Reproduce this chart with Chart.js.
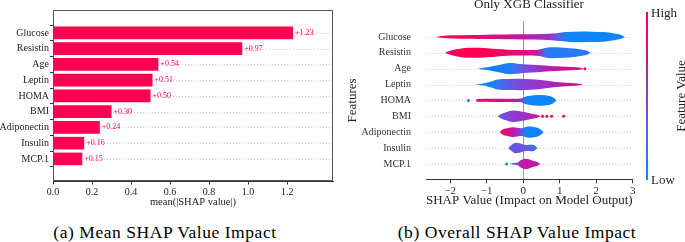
<!DOCTYPE html>
<html>
<head>
<meta charset="utf-8">
<script src="https://cdn.jsdelivr.net/npm/chart.js@4.4.0/dist/chart.umd.min.js"></script>
<style>
  body { margin: 0; background: #fff; width: 685px; height: 242px; overflow: hidden; position: relative; font-family: "Liberation Serif", serif; }
  #a { position: absolute; left: 0; top: 0; }
  #b { position: absolute; left: 340px; top: 0; }
  .txt { position: absolute; white-space: nowrap; color: #222; }
  .cap { font-size: 17.5px; line-height: 17.5px; top: 223.6px; letter-spacing: 0.55px; color: #000; transform: translateX(-50%); }
  #bar { position: absolute; left: 645.5px; top: 12px; width: 2.5px; height: 168px;
         background: linear-gradient(to top, #008bfb, #406ef0 25%, #8c3cd2 50%, #c814a0 75%, #ff0052); }
</style>
</head>
<body>
<canvas id="a" width="340" height="215"></canvas>
<canvas id="b" width="345" height="215"></canvas>
<div class="txt" style="left:529px; top:-2.6px; font-size:13px; line-height:13px; transform:translateX(-50%)">Only XGB Classifier</div>
<div id="bar"></div>
<div class="txt" style="left:651px; top:6px; font-size:13px; line-height:13px">High</div>
<div class="txt" style="left:651px; top:173px; font-size:13px; line-height:13px">Low</div>
<div class="txt" style="left:680px; top:96px; font-size:13px; line-height:13px; transform:translate(-50%,-50%) rotate(-90deg)">Feature Value</div>
<div class="txt cap" style="left:165px">(a) Mean SHAP Value Impact</div>
<div class="txt cap" style="left:517px">(b) Overall SHAP Value Impact</div>
<script>
const features = ['Glucose', 'Resistin', 'Age', 'Leptin', 'HOMA', 'BMI', 'Adiponectin', 'Insulin', 'MCP.1'];
const meanShap = [1.23, 0.97, 0.54, 0.51, 0.50, 0.30, 0.24, 0.16, 0.15];
const ticksA = [0, 0.2, 0.4, 0.6, 0.8, 1.0, 1.2];
const ticksB = [-2, -1, 0, 1, 2, 3];

// violin outlines: [shap value, half width (in rows), feature value 0..1]
const glucose = [[-2.39, 0, 1], [-2.25, .06, 1], [-1.9, .10, 1], [-1.45, .12, .97], [-1.0, .14, .85], [-0.5, .15, .8],
  [0.0, .16, .72], [0.55, .18, .6], [0.8, .21, .5], [1.0, .26, .3], [1.2, .30, .08], [1.6, .34, .05], [1.9, .33, .05],
  [2.2, .30, .05], [2.5, .21, .05], [2.7, .11, .05], [2.78, 0, .05]];
const resistin = [[-2.15, 0, .8], [-2.0, .13, .9], [-1.8, .23, 1], [-1.52, .32, 1], [-1.2, .31, 1], [-0.98, .28, 1],
  [-0.7, .23, .95], [-0.43, .19, .9], [-0.06, .17, .85], [0.25, .17, .8], [0.45, .21, .6], [0.6, .30, .25],
  [0.75, .34, .15], [1.12, .32, .15], [1.4, .26, .15], [1.58, .20, .15], [1.75, .12, .15], [1.85, 0, .15]];
const age = [[-1.23, 0, .1], [-1.1, .05, .1], [-0.88, .13, .1], [-0.6, .26, .1], [-0.38, .35, .12], [-0.2, .33, .25],
  [0, .27, .4], [0.25, .24, .5], [0.48, .21, .6], [0.75, .17, .7], [1.03, .13, .75], [1.3, .10, .78], [1.58, .05, .8], [1.64, 0, .8]];
const leptin = [[-1.31, 0, .05], [-1.1, .07, .05], [-0.98, .12, .05], [-0.85, .21, .1], [-0.7, .32, .2], [-0.4, .35, .35],
  [-0.06, .36, .45], [0.2, .33, .5], [0.48, .28, .55], [0.85, .17, .65], [1.3, .09, .75], [1.55, .05, .78], [1.63, 0, .78]];
const homa = [[-1.3, 0, .9], [-1.25, .09, .92], [-0.8, .095, .88], [-0.4, .10, .8], [-0.15, .11, .7], [-0.03, .14, .5],
  [0.05, .23, .1], [0.2, .29, .05], [0.39, .34, .05], [0.6, .32, .05], [0.8, .21, .05], [0.92, 0, .05]];
const bmi = [[-0.7, 0, .3], [-0.6, .14, .35], [-0.45, .27, .45], [-0.29, .36, .5], [-0.06, .30, .55], [0.1, .23, .6],
  [0.21, .18, .65], [0.32, .12, .7], [0.39, .09, .75], [0.47, 0, .75]];
const adiponectin = [[-0.64, 0, .95], [-0.55, .18, .9], [-0.4, .26, .82], [-0.29, .30, .75], [-0.15, .27, .6],
  [-0.04, .25, .4], [0.05, .30, .1], [0.14, .35, .05], [0.3, .32, .05], [0.45, .21, .05], [0.56, 0, .05]];
const insulin = [[-0.41, 0, .3], [-0.33, .18, .32], [-0.2, .33, .38], [-0.1, .30, .4], [0.03, .20, .38], [0.12, .19, .32],
  [0.21, .20, .28], [0.32, .15, .25], [0.39, 0, .25]];
const mcp1 = [[-0.36, 0, .1], [-0.3, .04, .15], [-0.15, .09, .5], [-0.06, .24, .65], [0.07, .33, .72], [0.18, .27, .72],
  [0.26, .20, .72], [0.39, .12, .72], [0.47, 0, .72]];
const violins = [glucose, resistin, age, leptin, homa, bmi, adiponectin, insulin, mcp1];

// single outlying points: [feature, shap value, feature value]
const outliers = [['Age', 1.69, 1], ['HOMA', -1.5, .3], ['BMI', 0.53, 1], ['BMI', 0.65, 1], ['BMI', 0.78, 1],
  ['BMI', 1.11, 1], ['MCP.1', -0.45, .05]];

const cmap = [[0, [0, 139, 251]], [0.25, [64, 110, 240]], [0.5, [140, 60, 210]], [0.75, [200, 20, 160]], [1, [255, 0, 82]]];
function colorAt(t) {
  for (let i = 1; i < cmap.length; i++) {
    if (t <= cmap[i][0]) {
      const a = cmap[i - 1], b = cmap[i];
      const f = (t - a[0]) / (b[0] - a[0]);
      const c = a[1].map((v, k) => Math.round(v + (b[1][k] - v) * f));
      return 'rgb(' + c.join(',') + ')';
    }
  }
  return 'rgb(255,0,82)';
}

function violinFill(pts) {
  return (ctx) => {
    const sx = ctx.chart.scales.x;
    const lo = pts[0][0], hi = pts[pts.length - 1][0];
    const x0 = sx ? sx.getPixelForValue(lo) : NaN, x1 = sx ? sx.getPixelForValue(hi) : NaN;
    if (!isFinite(x0) || !isFinite(x1) || x0 === x1) return colorAt(pts[0][2]);
    const g = ctx.chart.ctx.createLinearGradient(x0, 0, x1, 0);
    pts.forEach(p => g.addColorStop((p[0] - lo) / (hi - lo), colorAt(p[2])));
    return g;
  };
}

const serif = 'Liberation Serif';
const setTicks = (list) => (s) => { s.ticks = list.map(v => ({ value: v })); };
const rowIdx = features.map((f, i) => i);

// dotted row guides, drawn under the marks
const rowGuides = {
  id: 'rowGuides',
  beforeDatasetsDraw(chart) {
    const { ctx, chartArea: a, scales: { y } } = chart;
    ctx.save();
    ctx.strokeStyle = '#cfcfcf';
    ctx.lineWidth = 1;
    ctx.setLineDash([1, 2]);
    rowIdx.forEach(i => {
      const py = Math.round(y.getPixelForValue(i)) + 0.5;
      ctx.beginPath();
      ctx.moveTo(a.left, py);
      ctx.lineTo(a.right, py);
      ctx.stroke();
    });
    ctx.restore();
  }
};

// ---- (a) bar chart ----
const frame = {
  id: 'frame',
  afterDraw(chart) {
    const { ctx, chartArea: a } = chart;
    ctx.save();
    ctx.strokeStyle = '#555';
    ctx.lineWidth = 1;
    ctx.strokeRect(Math.round(a.left) + 0.5, Math.round(a.top) + 0.5, Math.round(a.right - a.left) - 1, Math.round(a.bottom - a.top) - 1);
    ctx.restore();
  }
};
const valueLabels = {
  id: 'valueLabels',
  afterDatasetsDraw(chart) {
    const ctx = chart.ctx;
    ctx.save();
    ctx.fillStyle = '#ff0052';
    ctx.font = '8px "Liberation Serif"';
    ctx.textBaseline = 'middle';
    chart.getDatasetMeta(0).data.forEach((bar, i) => {
      ctx.fillText('+' + meanShap[i].toFixed(2), bar.x + 2, bar.y);
    });
    ctx.restore();
  }
};

new Chart(document.getElementById('a'), {
  type: 'bar',
  data: {
    datasets: [{
      data: meanShap.map((v, i) => ({ x: v, y: i })),
      backgroundColor: '#ff0052',
      barPercentage: 1,
      categoryPercentage: 0.8
    }]
  },
  options: {
    indexAxis: 'y',
    responsive: false,
    animation: false,
    layout: { padding: { top: 10, right: 7, left: 0, bottom: 0 } },
    plugins: { legend: { display: false }, tooltip: { enabled: false } },
    scales: {
      x: {
        type: 'linear', min: 0, max: 1.435,
        afterBuildTicks: setTicks(ticksA),
        afterFit: (s) => { s.height = 34; },
        grid: { drawOnChartArea: false, tickLength: 3.5, tickColor: '#333' },
        border: { color: '#333' },
        ticks: { padding: 2, color: '#222', font: { family: serif, size: 10 }, callback: (v) => v.toFixed(1) },
        title: { display: true, text: 'mean(|SHAP value|)', color: '#222', font: { family: serif, size: 10.5 }, padding: { top: 0, bottom: 6 } }
      },
      y: {
        type: 'linear', reverse: true, min: -0.85, max: 8.8,
        afterBuildTicks: setTicks(rowIdx),
        afterFit: (s) => { s.width = 53; },
        grid: { drawOnChartArea: false, tickColor: '#333', tickLength: 3 },
        border: { color: '#333' },
        ticks: { padding: 1, color: '#222', font: { family: serif, size: 10 }, callback: (v) => features[v] ?? '' }
      }
    }
  },
  plugins: [rowGuides, frame, valueLabels]
});

// ---- (b) violin summary ----
const violinSets = [];
violins.forEach((pts, i) => {
  const fill = violinFill(pts);
  const common = {
    showLine: true, pointRadius: 0, borderColor: 'rgba(0,0,0,0)', borderWidth: 0,
    cubicInterpolationMode: 'monotone', backgroundColor: fill
  };
  violinSets.push(Object.assign({ data: pts.map(p => ({ x: p[0], y: i - p[1] })), fill: false }, common));
  violinSets.push(Object.assign({ data: pts.map(p => ({ x: p[0], y: i + p[1] })), fill: '-1' }, common));
});
violinSets.push({
  data: outliers.map(o => ({ x: o[1], y: features.indexOf(o[0]) })),
  showLine: false,
  pointRadius: 1.5,
  pointBorderWidth: 0,
  pointBackgroundColor: outliers.map(o => colorAt(o[2]))
});

new Chart(document.getElementById('b'), {
  type: 'line',
  data: { datasets: violinSets },
  options: {
    responsive: false,
    animation: false,
    layout: { padding: { top: 12.25, right: 52.3, left: 0, bottom: 0 } },
    plugins: { legend: { display: false }, tooltip: { enabled: false } },
    scales: {
      x: {
        type: 'linear', min: -2.66, max: 3,
        afterBuildTicks: setTicks(ticksB),
        afterFit: (s) => { s.height = 35.25; },
        grid: { color: (c) => (c.tick && c.tick.value === 0 ? '#999' : 'rgba(0,0,0,0)'), tickColor: '#333', tickLength: 3.5 },
        border: { color: '#333' },
        ticks: { padding: 1, color: '#333', font: { family: serif, size: 11 }, callback: (v) => (v < 0 ? '\u2212' + Math.abs(v) : '' + v) },
        title: { display: true, text: 'SHAP Value (Impact on Model Output)', color: '#222', font: { family: serif, size: 13 }, padding: { top: 0, bottom: 7 } }
      },
      y: {
        type: 'linear', reverse: true, min: -1, max: 9,
        afterBuildTicks: setTicks(rowIdx),
        afterFit: (s) => { s.width = 86; },
        grid: { display: false, drawTicks: false },
        border: { display: false },
        ticks: { padding: 15, color: '#333', font: { family: serif, size: 10 }, callback: (v) => features[v] ?? '' },
        title: { display: true, text: 'Features', color: '#222', font: { family: serif, size: 13 }, padding: { top: 5 } }
      }
    }
  },
  plugins: [rowGuides]
});
</script>
</body>
</html>
